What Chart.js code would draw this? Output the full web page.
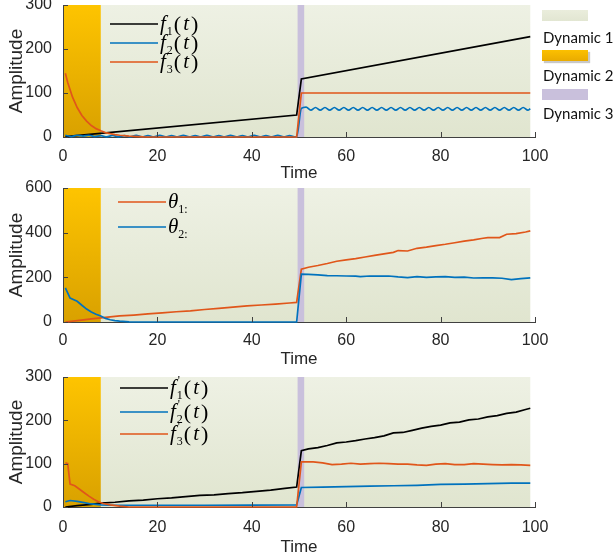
<!DOCTYPE html>
<html>
<head>
<meta charset="utf-8">
<script src="https://cdn.jsdelivr.net/npm/chart.js@4.4.0/dist/chart.umd.min.js"></script>
<style>
  body { margin: 0; background: #fff; }
  #wrap { position: relative; width: 614px; height: 560px; overflow: hidden; }
  canvas { position: absolute; left: 0; }
  .sw { position: absolute; left: 542px; width: 46px; height: 11px; }
  .lab { position: absolute; left: 543px; font: 15px Lato, sans-serif; color: #111; line-height: 16px; white-space: nowrap; }
</style>
</head>
<body>
<div id="wrap">
  <canvas id="c1" width="614" height="185" style="top:0"></canvas>
  <canvas id="c2" width="614" height="195" style="top:175px"></canvas>
  <canvas id="c3" width="614" height="200" style="top:360px"></canvas>

  <div class="sw" style="top:10px;background:linear-gradient(#eaeddc,#e2e6d2)"></div>
  <div class="lab" style="top:29px">Dynamic 1</div>
  <div class="sw" style="top:50px;background:linear-gradient(#fcc000,#e9ab00);box-shadow:2px 2px 1px #c8c8c8"></div>
  <div class="lab" style="top:67px">Dynamic 2</div>
  <div class="sw" style="top:89px;background:#c9c0dc"></div>
  <div class="lab" style="top:105px">Dynamic 3</div>
</div>

<script>
// time ranges of the three dynamics
const dynamic1 = [0, 99];
const dynamic2 = [0, 8];
const dynamic3 = [49.7, 51.1];

// top panel
const f1Time = [0.5, 49.5, 50.5, 99];
const f1Vals = [1, 50, 132, 228];

const f2TimeEarly = Array.from({ length: 40 }, (_, i) => 0.5 + i * 1.25);
const f2ValsEarly = [4, 1, 4, 2, 4, 1, 3, 0.5, 3.5, 0.5,
  3, 0.5, 3.5, 0.5, 3, 0.5, 3.5, 0.5, 3, 0.5,
  3.5, 0.5, 3, 0.5, 3.5, 0.5, 3, 0.5, 3.5, 0.5,
  3, 0.5, 3.5, 0.5, 3, 0.5, 3.5, 0.5, 3, 0.5];
const f2TimeLate = Array.from({ length: 49 }, (_, i) => 50.5 + i);
const f2ValsLate = [65, 68, 61, 67, 61, 67, 61, 67, 61, 67,
  61, 67, 61, 67, 61, 67, 61, 67, 61, 67,
  61, 67, 61, 67, 61, 67, 61, 67, 61, 67,
  61, 67, 61, 67, 61, 67, 61, 67, 61, 67,
  61, 67, 61, 67, 61, 67, 61, 67, 61];
const f2Time = [...f2TimeEarly, 49.5, ...f2TimeLate, 99];
const f2Vals = [...f2ValsEarly, 0.5, ...f2ValsLate, 64];

const f3Time = [0.5, 1, 2, 3, 4, 5, 6, 7, 8, 9, 10, 11, 12, 13, 14, 15, 17, 20, 49.5, 50.5, 99];
const f3Vals = [145, 124, 91, 67, 49, 36, 26, 19, 14, 10, 7.5, 5.5, 4, 3, 2, 1.5, 0.5, 0, 0, 100, 100];

// middle panel
const th1Time = [0.5, 3, 6, 9, 12, 15, 18, 21, 24, 27, 30, 33, 36, 39, 42, 45, 48, 49.5,
  50.5, 52, 54, 56, 58, 60, 62, 64, 66, 68, 70, 71, 73, 75, 77, 79, 81, 83, 85, 87, 89, 90, 92.5, 94, 96, 98, 99];
const th1Vals = [0, 6, 14, 21, 27, 31, 36, 41, 46, 50, 56, 61, 67, 72, 76, 80, 85, 88,
  237, 245, 253, 262, 272, 278, 284, 291, 298, 305, 312, 320, 318, 330, 335, 342, 348, 355, 362, 368, 375, 378, 378, 393, 396, 403, 408];

const th2Time = [0.5, 1.5, 3, 4, 5, 6, 7, 8, 9, 10, 11, 12, 14, 16, 49.5,
  50.5, 52, 54, 56, 58, 60, 62, 63, 65, 67, 69, 71, 73, 75, 77, 79, 81, 83, 85, 87, 89, 91, 93, 95, 97, 99];
const th2Vals = [153, 107, 93, 75, 58, 45, 35, 27, 16, 10, 6, 4, 1, 0, 0,
  214, 213, 211, 208, 207, 206, 205, 203, 206, 205, 206, 202, 199, 203, 200, 202, 203, 200, 201, 197, 198, 198, 196, 190, 194, 198];

// bottom panel
const fp1Time = [0.5, 3, 6, 8, 11, 14, 17, 20, 23, 26, 29, 32, 35, 38, 41, 44, 47, 49.5,
  50.5, 52, 54, 56, 58, 60, 62, 64, 66, 68, 70, 72, 74, 76, 78, 80, 82, 84, 86, 88, 90, 92, 94, 96, 98, 99];
const fp1Vals = [0, 3, 6, 9, 11, 14, 16, 19, 21, 24, 27, 28, 31, 33, 36, 39, 43, 46,
  130, 134, 137, 142, 148, 150, 153, 157, 160, 164, 171, 172, 177, 182, 186, 189, 194, 196, 201, 203, 208, 211, 216, 219, 225, 228];

const fp2Time = [0.5, 1.5, 3, 4.5, 6, 8, 10, 20, 30, 40, 49.5, 50.5, 55, 60, 65, 70, 75, 80, 85, 90, 95, 99];
const fp2Vals = [12, 15, 13, 10, 7, 5, 4, 4, 4, 4.5, 5, 45, 46, 47, 48, 49, 50, 52, 53, 54, 55, 55];

const fp3Time = [0.5, 1, 1.5, 2.5, 3.5, 4.5, 5.5, 6.5, 7.5, 8.5, 10, 12, 14, 49.5,
  50.5, 53, 55, 57, 59, 61, 63, 65, 67, 69, 71, 73, 75, 77, 79, 81, 83, 85, 87, 89, 91, 93, 95, 97, 99];
const fp3Vals = [102, 100, 53, 49, 41, 33, 25, 18, 12, 8, 5, 2, 0, 0,
  104, 104, 102, 98, 99, 101, 99, 100, 101, 100, 99, 99, 97, 96, 99, 100, 98, 98, 100, 99, 98, 97, 98, 97, 96];

const BLACK = '#000000', BLUE = '#0072bd', ORANGE = '#e0561a';
const SANS = '"Liberation Sans", Arial, sans-serif';
const SERIF = '"Liberation Serif", "DejaVu Serif", serif';
const TEXT = '#262626';

const pts = (xs, ys) => xs.map((x, i) => ({ x, y: ys[i] }));

const line = (xs, ys, color, extra) => Object.assign({
  data: pts(xs, ys), borderColor: color, borderWidth: 1.7, pointRadius: 0, fill: false, clip: 3
}, extra || {});

const bands = {
  id: 'bands',
  beforeDraw(chart) {
    const { ctx, chartArea: a, scales: { x } } = chart;
    const px = v => x.getPixelForValue(v);
    const h = a.bottom - a.top;
    ctx.save();
    let g = ctx.createLinearGradient(0, a.top, 0, a.bottom);
    g.addColorStop(0, '#eef1e4');
    g.addColorStop(1, '#e0e5cf');
    ctx.fillStyle = g;
    ctx.fillRect(px(dynamic1[0]), a.top, px(dynamic1[1]) - px(dynamic1[0]), h);
    g = ctx.createLinearGradient(0, a.top, 0, a.bottom);
    g.addColorStop(0, '#fec400');
    g.addColorStop(1, '#d9a100');
    ctx.fillStyle = g;
    ctx.fillRect(px(dynamic2[0]), a.top, px(dynamic2[1]) - px(dynamic2[0]), h);
    ctx.fillStyle = '#c9c0dc';
    ctx.fillRect(px(dynamic3[0]), a.top, px(dynamic3[1]) - px(dynamic3[0]), h);
    ctx.restore();
  }
};

const inTicks = {
  id: 'inTicks',
  afterDatasetsDraw(chart) {
    const { ctx, chartArea: a, scales: { x, y } } = chart;
    ctx.save();
    ctx.strokeStyle = '#404040';
    ctx.lineWidth = 1;
    ctx.beginPath();
    x.ticks.forEach(t => {
      const p = Math.round(x.getPixelForValue(t.value)) + 0.5;
      ctx.moveTo(p, a.bottom); ctx.lineTo(p, a.bottom - 5);
    });
    y.ticks.forEach(t => {
      const p = Math.round(y.getPixelForValue(t.value)) + 0.5;
      ctx.moveTo(a.left, p); ctx.lineTo(a.left + 5, p);
    });
    ctx.stroke();
    ctx.restore();
  }
};

function drawMath(ctx, x, y, kind, n) {
  const base = y + 6;
  ctx.fillStyle = '#000';
  ctx.textBaseline = 'alphabetic';
  ctx.textAlign = 'left';
  if (kind === 'theta') {
    ctx.font = 'italic 21px ' + SERIF;
    ctx.fillText('θ', x, base);
    x += ctx.measureText('θ').width;
    ctx.font = '12px ' + SERIF;
    ctx.fillText(n + ':', x, base + 5);
    return;
  }
  ctx.font = 'italic 21px ' + SERIF;
  ctx.fillText('f', x, base);
  x += ctx.measureText('f').width;
  ctx.font = '12px ' + SERIF;
  if (kind === 'fp') ctx.fillText("'", x + 2, base - 10);
  ctx.fillText(String(n), x + 1, base + 5);
  x += ctx.measureText(String(n)).width + 2;
  ctx.font = '22px ' + SERIF;
  ctx.fillText('(', x, base + 1);
  x += ctx.measureText('(').width + 2;
  ctx.font = 'italic 21px ' + SERIF;
  ctx.fillText('t', x, base);
  x += ctx.measureText('t').width + 2;
  ctx.font = '22px ' + SERIF;
  ctx.fillText(')', x, base + 1);
}

const mathLegend = {
  id: 'mathLegend',
  afterDatasetsDraw(chart, args, opts) {
    const { ctx } = chart;
    ctx.save();
    opts.rows.forEach(r => {
      ctx.strokeStyle = r.color;
      ctx.lineWidth = 1.7;
      ctx.beginPath();
      ctx.moveTo(opts.x1, r.y); ctx.lineTo(opts.x2, r.y);
      ctx.stroke();
      drawMath(ctx, opts.x2 + 2, r.y, r.kind, r.n);
    });
    ctx.restore();
  }
};

function makeChart(id, datasets, ymax, ystep, padTop, xHeight, tickPad, titlePad, legend) {
  return new Chart(document.getElementById(id), {
    type: 'line',
    data: { datasets },
    options: {
      responsive: false,
      animation: false,
      layout: { padding: { top: padTop, right: 79, left: 0, bottom: 0 } },
      scales: {
        x: {
          type: 'linear', min: 0, max: 100,
          afterFit: s => { s.height = xHeight; s.paddingLeft = 0; s.paddingRight = 0; },
          grid: { display: false },
          border: { color: '#404040', width: 1 },
          ticks: { stepSize: 20, padding: tickPad, color: TEXT, font: { family: SANS, size: 16 } },
          title: { display: true, text: 'Time', color: TEXT, font: { family: SANS, size: 17 }, padding: { top: 0, bottom: titlePad } }
        },
        y: {
          min: 0, max: ymax,
          afterFit: s => { s.width = 63; s.paddingTop = 0; s.paddingBottom = 0; },
          grid: { display: false },
          border: { color: '#404040', width: 1 },
          ticks: { stepSize: ystep, padding: 3, color: TEXT, font: { family: SANS, size: 16 } },
          title: { display: true, text: 'Amplitude', color: TEXT, font: { family: SANS, size: 19 }, padding: { top: 5, bottom: 0 } }
        }
      },
      plugins: {
        legend: { display: false },
        tooltip: { enabled: false },
        mathLegend: legend
      }
    },
    plugins: [bands, inTicks, mathLegend]
  });
}

makeChart('c1', [
  line(f3Time, f3Vals, ORANGE),
  line(f2Time, f2Vals, BLUE, { cubicInterpolationMode: 'monotone' }),
  line(f1Time, f1Vals, BLACK)
], 300, 100, 5, 48, 2, 1, {
  x1: 110, x2: 158,
  rows: [
    { y: 24, color: BLACK, kind: 'f', n: 1 },
    { y: 43, color: BLUE, kind: 'f', n: 2 },
    { y: 62, color: ORANGE, kind: 'f', n: 3 }
  ]
});

makeChart('c2', [
  line(th2Time, th2Vals, BLUE),
  line(th1Time, th1Vals, ORANGE)
], 600, 200, 13, 48, 1, 0, {
  x1: 118, x2: 166,
  rows: [
    { y: 27, color: ORANGE, kind: 'theta', n: 1 },
    { y: 52, color: BLUE, kind: 'theta', n: 2 }
  ]
});

makeChart('c3', [
  line(fp3Time, fp3Vals, ORANGE),
  line(fp2Time, fp2Vals, BLUE),
  line(fp1Time, fp1Vals, BLACK)
], 300, 100, 17, 53, 3, 2, {
  x1: 120, x2: 168,
  rows: [
    { y: 28, color: BLACK, kind: 'fp', n: 1 },
    { y: 52, color: BLUE, kind: 'fp', n: 2 },
    { y: 74, color: ORANGE, kind: 'fp', n: 3 }
  ]
});
</script>
</body>
</html>
